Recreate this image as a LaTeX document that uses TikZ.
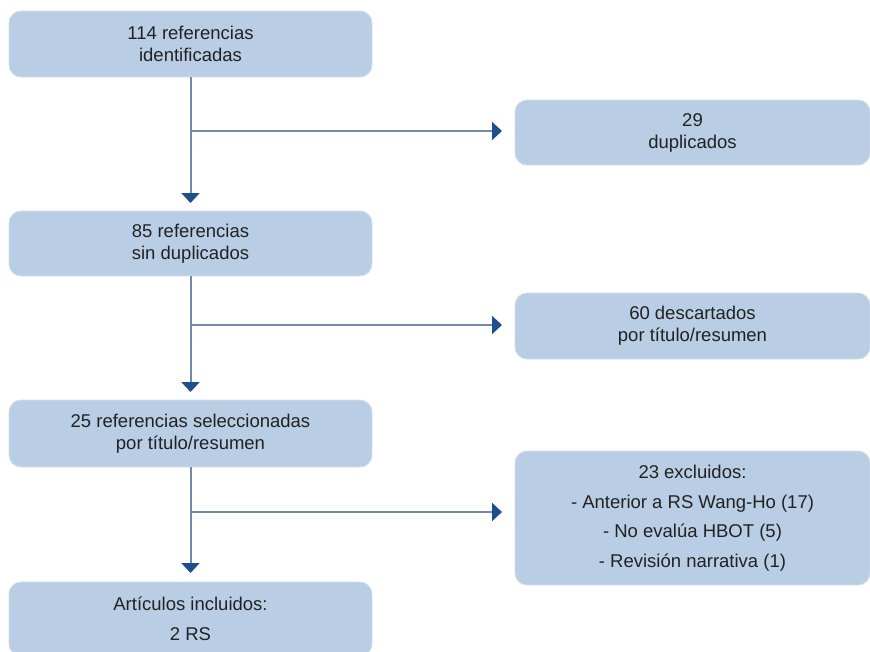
\documentclass[tikz,border=0pt]{standalone}
\usepackage{fontspec}
\setmainfont{Liberation Sans}
\usetikzlibrary{arrows.meta}
\definecolor{boxfill}{HTML}{B9CDE5}
\definecolor{boxedge}{HTML}{D3DEEC}
\definecolor{linkblue}{HTML}{7089AD}
\definecolor{tipblue}{HTML}{1F4E8C}
\definecolor{textgray}{HTML}{222222}
\tikzset{
  flowbox/.style={rectangle, rounded corners=12pt, fill=boxfill, draw=boxedge,
    line width=0.8pt, inner sep=0pt, outer sep=0pt, align=center,
    text=textgray, font=\fontsize{18.5}{22}\selectfont},
  leftbox/.style={flowbox, minimum width=363pt},
  rightbox/.style={flowbox, minimum width=355pt},
  link/.style={draw=linkblue, line width=2pt},
  linkarrow/.style={link, -{Triangle[width=18pt,length=10pt,color=tipblue]}}
}
\begin{document}
\begin{tikzpicture}[x=1pt,y=-1pt]
\useasboundingbox (0,0) rectangle (870,651);

% main column
\node[leftbox, minimum height=66pt] (b1) at (190.5,44)
  {114 referencias\\identificadas};
\node[leftbox, minimum height=65pt] (b2) at (190.5,243.5)
  {85 referencias\\sin duplicados};
\node[leftbox, minimum height=67pt] (b3) at (190.5,433.5)
  {25 referencias seleccionadas\\por título/resumen};
\node[leftbox, minimum height=74pt] (b4) at (190.5,619)
  {Artículos incluidos:\\[8pt]2 RS};

% exclusions column
\node[rightbox, minimum height=65pt] (r1) at (692.5,132.5)
  {29\\duplicados};
\node[rightbox, minimum height=66pt] (r2) at (692.5,326)
  {60 descartados\\por título/resumen};
\node[rightbox, minimum height=134pt] (r3) at (692.5,518)
  {23 excluidos:\\[7.5pt]- Anterior a RS Wang-Ho (17)\\[7.5pt]- No evalúa HBOT (5)\\[7.5pt]- Revisión narrativa (1)};

% branch points on the main line
\coordinate (j1) at (190.5,131);
\coordinate (j2) at (190.5,325);
\coordinate (j3) at (190.5,512);

% downward flow
\draw[linkarrow, shorten >=8pt] (b1.south) -- (b2.north);
\draw[linkarrow, shorten >=8pt] (b2.south) -- (b3.north);
\draw[linkarrow, shorten >=9pt] (b3.south) -- (b4.north);

% side branches
\draw[linkarrow, shorten >=13pt] (j1) -- (j1 -| r1.west);
\draw[linkarrow, shorten >=13pt] (j2) -- (j2 -| r2.west);
\draw[linkarrow, shorten >=13pt] (j3) -- (j3 -| r3.west);
\end{tikzpicture}
\end{document}
